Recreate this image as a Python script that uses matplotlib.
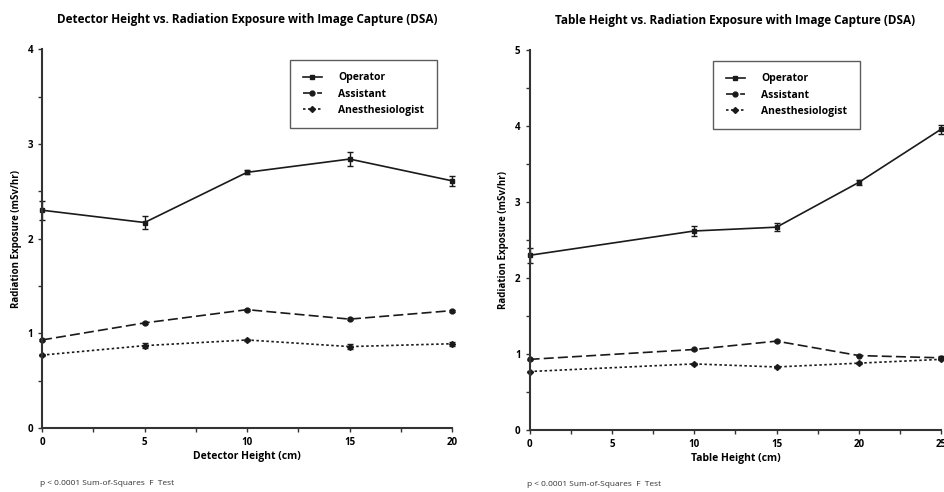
import matplotlib.pyplot as plt
import matplotlib as mpl
from matplotlib.ticker import MultipleLocator
from matplotlib.lines import Line2D

mpl.rcParams['font.family'] = ['Open Sans', 'DejaVu Sans']
mpl.rcParams['font.size'] = 7

# left panel: detector height
det_x = [0, 5, 10, 15, 20]
det_operator = [2.30, 2.17, 2.70, 2.84, 2.61]
det_operator_err = [0.10, 0.07, 0.02, 0.07, 0.05]
det_assistant = [0.93, 1.11, 1.25, 1.15, 1.24]
det_assistant_err = [0.01, 0.01, 0.01, 0.01, 0.01]
det_anesth = [0.77, 0.87, 0.93, 0.86, 0.89]
det_anesth_err = [0.01, 0.03, 0.01, 0.03, 0.02]

# right panel: table height
tab_x = [0, 10, 15, 20, 25]
tab_operator = [2.30, 2.62, 2.67, 3.26, 3.96]
tab_operator_err = [0.10, 0.06, 0.05, 0.03, 0.06]
tab_assistant = [0.93, 1.06, 1.17, 0.98, 0.95]
tab_assistant_err = [0.01, 0.01, 0.01, 0.01, 0.02]
tab_anesth = [0.77, 0.87, 0.83, 0.88, 0.93]
tab_anesth_err = [0.01, 0.01, 0.01, 0.01, 0.01]

names = ['Operator', 'Assistant', 'Anesthesiologist']
styles = [('-', 's'), ((0, (6, 2.5)), 'o'), ((0, (1.5, 1.5)), 'D')]
col = '#1a1a1a'

fig = plt.figure(figsize=(9.44, 4.92), dpi=100)
ax1 = fig.add_axes([0.0445, 0.130, 0.4345, 0.770])
ax2 = fig.add_axes([0.561, 0.126, 0.436, 0.772])


def panel(ax, x, series, errs, ymax, xmax, title, xlabel, legx):
    handles = []
    for (ls, mk), y, e, n in zip(styles, series, errs, names):
        ms = 3.5 if mk != 'D' else 3
        ax.errorbar(x, y, yerr=e, color=col, ls=ls, lw=1.2, marker=mk,
                    ms=ms, capsize=2.5, elinewidth=1, clip_on=False)
        handles.append(Line2D([], [], color=col, ls=ls, lw=1.2, marker=mk, ms=ms, label=n))
    ax.set_xlim(0, xmax)
    ax.set_ylim(0, ymax)
    ax.xaxis.set_major_locator(MultipleLocator(5))
    ax.xaxis.set_minor_locator(MultipleLocator(2.5))
    ax.yaxis.set_major_locator(MultipleLocator(1))
    ax.yaxis.set_minor_locator(MultipleLocator(0.5))
    for s in ['top', 'right']:
        ax.spines[s].set_visible(False)
    for s in ['left', 'bottom']:
        ax.spines[s].set_linewidth(1.5)
        ax.spines[s].set_color('#333333')
    ax.tick_params(which='both', direction='out', length=3, width=1, color='#333333')
    ax.tick_params(labelsize=7)
    for lab in ax.get_xticklabels() + ax.get_yticklabels():
        lab.set_fontweight('bold')
    ax.set_title(title, fontsize=8.5, fontweight='bold', pad=19)
    ax.set_xlabel(xlabel, fontsize=7.5, fontweight='bold', labelpad=2)
    ax.set_ylabel('Radiation Exposure (mSv/hr)', fontsize=7, fontweight='bold', labelpad=4)
    leg = ax.legend(handles=handles, loc='upper right', bbox_to_anchor=(legx, 0.98),
                    fontsize=7.5, frameon=True, fancybox=False, edgecolor='#333333',
                    borderpad=1.2, labelspacing=0.5, handlelength=1.8, handletextpad=1.6,
                    borderaxespad=0.3)
    leg.get_frame().set_linewidth(1)
    for t in leg.get_texts():
        t.set_fontweight('bold')


panel(ax1, det_x, [det_operator, det_assistant, det_anesth],
      [det_operator_err, det_assistant_err, det_anesth_err], 4, 20,
      'Detector Height vs. Radiation Exposure with Image Capture (DSA)',
      'Detector Height (cm)', 0.97)
panel(ax2, tab_x, [tab_operator, tab_assistant, tab_anesth],
      [tab_operator_err, tab_assistant_err, tab_anesth_err], 5, 25,
      'Table Height vs. Radiation Exposure with Image Capture (DSA)',
      'Table Height (cm)', 0.81)

fig.text(0.042, 0.015, 'p < 0.0001 Sum-of-Squares  F  Test', fontsize=6, color='#333333')
fig.text(0.558, 0.012, 'p < 0.0001 Sum-of-Squares  F  Test', fontsize=6, color='#333333')

fig.savefig('out.png', dpi=100)
